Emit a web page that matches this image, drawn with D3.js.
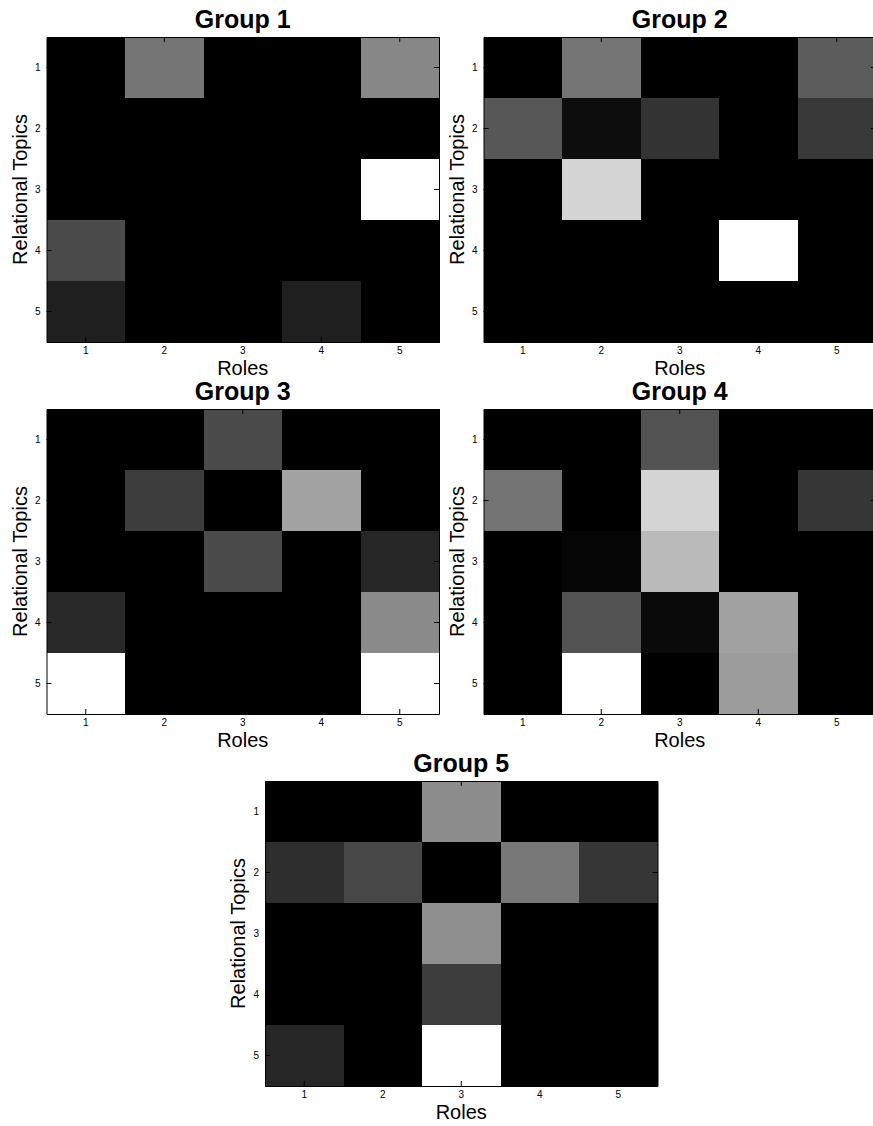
<!DOCTYPE html>
<html>
<head>
<meta charset="utf-8">
<script src="https://cdn.jsdelivr.net/npm/d3@7"></script>
<style>
  html, body { margin: 0; padding: 0; background: #fff; }
  svg { display: block; }
  text { font-family: "Liberation Sans", Arial, Helvetica, sans-serif; }
</style>
</head>
<body>
<svg id="chart" width="873" height="1126"></svg>
<script>
// Role / topic categories shared by every panel
const roles = [1, 2, 3, 4, 5];
const topics = [1, 2, 3, 4, 5];
const groupTitles = ["Group 1", "Group 2", "Group 3", "Group 4", "Group 5"];
const xLabel = "Roles";
const yLabel = "Relational Topics";

// Normalised intensity per cell: rows = relational topics 1..5, columns = roles 1..5
const group1 = [
  [0.00, 0.46, 0.00, 0.00, 0.53],
  [0.00, 0.00, 0.00, 0.00, 0.00],
  [0.00, 0.00, 0.00, 0.00, 1.00],
  [0.29, 0.00, 0.00, 0.00, 0.00],
  [0.12, 0.00, 0.00, 0.12, 0.00]
];
const group2 = [
  [0.00, 0.46, 0.00, 0.00, 0.36],
  [0.34, 0.05, 0.20, 0.00, 0.22],
  [0.00, 0.83, 0.00, 0.00, 0.00],
  [0.00, 0.00, 0.00, 1.00, 0.00],
  [0.00, 0.00, 0.00, 0.00, 0.00]
];
const group3 = [
  [0.00, 0.00, 0.29, 0.00, 0.00],
  [0.00, 0.24, 0.00, 0.64, 0.00],
  [0.00, 0.00, 0.29, 0.00, 0.15],
  [0.16, 0.00, 0.00, 0.00, 0.54],
  [1.00, 0.00, 0.00, 0.00, 1.00]
];
const group4 = [
  [0.00, 0.00, 0.32, 0.00, 0.00],
  [0.45, 0.00, 0.83, 0.00, 0.21],
  [0.00, 0.02, 0.73, 0.00, 0.00],
  [0.00, 0.32, 0.04, 0.63, 0.00],
  [0.00, 1.00, 0.00, 0.61, 0.00]
];
const group5 = [
  [0.00, 0.00, 0.55, 0.00, 0.00],
  [0.18, 0.28, 0.00, 0.47, 0.21],
  [0.00, 0.00, 0.56, 0.00, 0.00],
  [0.00, 0.00, 0.24, 0.00, 0.00],
  [0.15, 0.00, 1.00, 0.00, 0.00]
];
const groupValues = [group1, group2, group3, group4, group5];

// Panel placement (plot-area origin) and size
const panelW = 392.5, panelH = 305;
const panelOrigins = [
  [46.5, 37], [483.5, 37],
  [46.5, 409], [483.5, 409],
  [265, 781]
];

const svg = d3.select("#chart");
const gray = d3.scaleLinear().domain([0, 1]).range(["#000000", "#ffffff"]).interpolate(d3.interpolateRgb);

const x = d3.scaleBand().domain(roles).range([0, panelW]).padding(0);
const y = d3.scaleBand().domain(topics).range([0, panelH]).padding(0);

groupValues.forEach((matrix, gi) => {
  const [ox, oy] = panelOrigins[gi];
  const g = svg.append("g").attr("transform", `translate(${ox},${oy})`);

  const cells = [];
  matrix.forEach((row, ri) => row.forEach((v, ci) => cells.push({ topic: topics[ri], role: roles[ci], v })));

  g.selectAll("rect.cell")
    .data(cells)
    .join("rect")
    .attr("class", "cell")
    .attr("x", d => x(d.role))
    .attr("y", d => y(d.topic))
    .attr("width", x.bandwidth() + 0.5)
    .attr("height", y.bandwidth() + 0.5)
    .attr("shape-rendering", "crispEdges")
    .attr("fill", d => gray(d.v));

  const styleAxis = sel => {
    sel.selectAll(".domain").attr("stroke", "#000").attr("stroke-width", 1);
    sel.selectAll(".tick line").attr("stroke", "#000").attr("stroke-width", 1);
    sel.selectAll("text")
      .attr("fill", "#000")
      .style("font-family", '"Liberation Sans", Arial, sans-serif')
      .style("font-size", "10px");
  };

  g.append("g")
    .attr("transform", `translate(0,${panelH})`)
    .call(d3.axisBottom(x).tickSizeInner(-5).tickSizeOuter(0).tickPadding(5))
    .call(styleAxis);
  g.append("g")
    .call(d3.axisTop(x).tickSizeInner(-5).tickSizeOuter(0).tickFormat(""))
    .call(styleAxis);
  g.append("g")
    .call(d3.axisLeft(y).tickSizeInner(-5).tickSizeOuter(0).tickPadding(6))
    .call(styleAxis);
  g.append("g")
    .attr("transform", `translate(${panelW},0)`)
    .call(d3.axisRight(y).tickSizeInner(-5).tickSizeOuter(0).tickFormat(""))
    .call(styleAxis);

  g.append("text")
    .attr("x", panelW / 2)
    .attr("y", -9)
    .attr("text-anchor", "middle")
    .style("font-size", "25px")
    .style("font-weight", "bold")
    .text(groupTitles[gi]);

  g.append("text")
    .attr("x", panelW / 2)
    .attr("y", panelH + 33)
    .attr("text-anchor", "middle")
    .style("font-size", "20px")
    .text(xLabel);

  g.append("text")
    .attr("transform", `translate(-20,${panelH / 2}) rotate(-90)`)
    .attr("text-anchor", "middle")
    .style("font-size", "20px")
    .text(yLabel);
});
</script>
</body>
</html>
